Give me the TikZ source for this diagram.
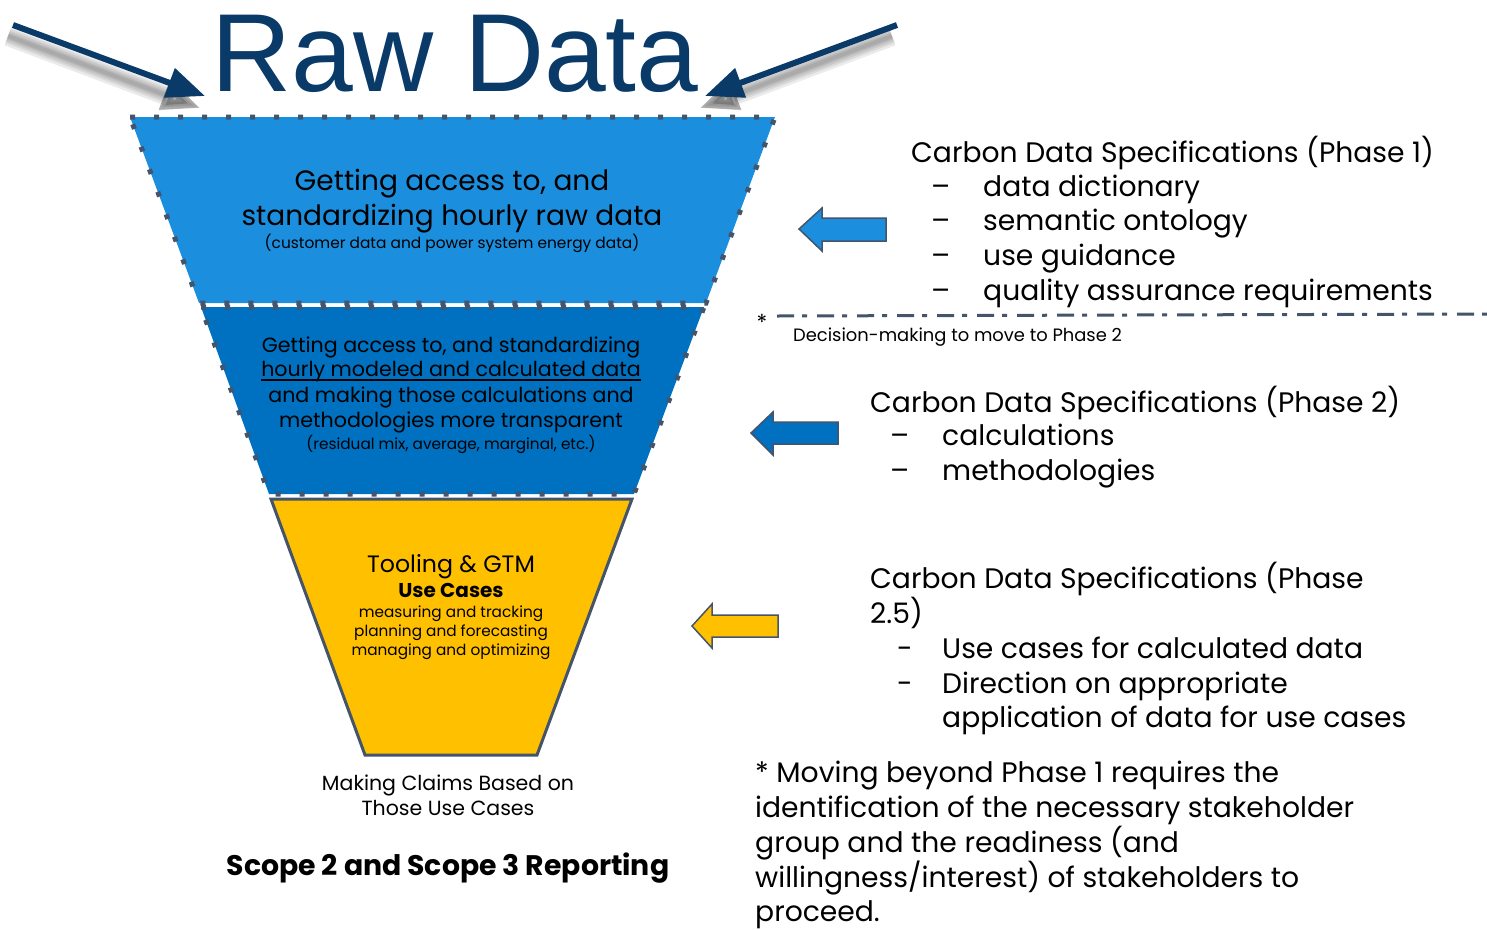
\documentclass[tikz,border=0pt]{standalone}
\usepackage{fontspec}
\setmainfont{Poppins}
\newfontfamily\arialf{Liberation Sans}
\usetikzlibrary{arrows.meta}
\definecolor{navy}{HTML}{0A3A68}
\definecolor{bandA}{HTML}{1B8EDD}
\definecolor{bandB}{HTML}{0070C0}
\definecolor{bandC}{HTML}{FFC000}
\definecolor{edgec}{HTML}{44546A}
\newcommand\fsz[1]{\fontsize{#1}{#1}\selectfont}
\begin{document}
\begin{tikzpicture}[x=1pt,y=-1pt,
  lt/.style={inner sep=0pt, anchor=base west},
  ct/.style={inner sep=0pt, anchor=base},
  rtext/.style={lt, font=\fsz{28.2}},
  dotborder/.style={draw=edgec, line width=5pt, dash pattern=on 5pt off 19pt},
  bigarrow/.style={draw=navy, line width=6pt, -{Triangle[length=38pt,width=30pt]}},
  shadowarrow/.style={draw=black, opacity=0.08, -{Triangle[length=38pt,width=30pt]}},
  sidearrow/.style={draw=edgec, line width=1.5pt, line join=miter},
  dashdot/.style={draw=edgec, line width=3pt, dash pattern=on 17pt off 8pt on 5pt off 10pt},
]
\useasboundingbox (0,0) rectangle (1487,929);

% ---- top arrows with soft shadows
\coordinate (la) at (13,25);
\coordinate (lt) at (205,96);
\coordinate (ra) at (897,25);
\coordinate (rt) at (705,96);
\coordinate (las) at (8,36);
\coordinate (lts) at (200,108);
\coordinate (ras) at (892,36);
\coordinate (rts) at (700,108);
\foreach \w in {20,15,11,7,4} {
  \draw[shadowarrow, line width=\w pt] (las) -- (lts);
  \draw[shadowarrow, line width=\w pt] (ras) -- (rts);
}
\draw[bigarrow] (la) -- (lt);
\draw[bigarrow] (ra) -- (rt);

\node[font=\arialf\fsz{111}, text=navy, ct] (title) at (455,91) {Raw Data};

% ---- funnel
\fill[bandA] (130,117) -- (775,117) -- (706,303) -- (199,303) -- cycle;
\draw[dotborder] (130,117) -- (775,117) -- (706,303) -- (199,303) -- cycle;
\fill[bandB] (201,307) -- (704,307) -- (634,494) -- (269,494) -- cycle;
\draw[dotborder] (201,307) -- (704,307) -- (634,494) -- (269,494) -- cycle;
\draw[fill=bandC, draw=edgec, line width=3pt, line join=miter] (271,499) -- (632,499) -- (537,755) -- (365,755) -- cycle;

% band texts
\node[ct, font=\fsz{28}] (a1) at (452,190) {Getting access to, and};
\node[ct, font=\fsz{28}] (a2) at (452,225) {standardizing hourly raw data};
\node[ct, font=\fsz{15.4}] (a3) at (452,248) {(customer data and power system energy data)};

\node[ct, font=\fsz{20.6}] (b1) at (451,352) {Getting access to, and standardizing};
\node[ct, font=\fsz{20.6}] (b2) at (451,376) {hourly modeled and calculated data};
\draw[line width=1.4pt] ([yshift=-4pt]b2.base west) -- ([yshift=-4pt]b2.base east);
\node[ct, font=\fsz{20.6}] (b3) at (451,402) {and making those calculations and};
\node[ct, font=\fsz{20.6}] (b4) at (451,427) {methodologies more transparent};
\node[ct, font=\fsz{15.3}] (b5) at (451,449) {(residual mix, average, marginal, etc.)};

\node[ct, font=\fsz{23.7}] (c1) at (451,572) {Tooling \& GTM};
\node[ct, font=\bfseries\fsz{20}] (c2) at (451,597) {Use Cases};
\node[ct, font=\fsz{15.3}] (c3) at (451,617) {measuring and tracking};
\node[ct, font=\fsz{15.3}] (c4) at (451,636) {planning and forecasting};
\node[ct, font=\fsz{15.3}] (c5) at (451,655) {managing and optimizing};

\node[ct, font=\fsz{20.5}] (d1) at (448,790) {Making Claims Based on};
\node[ct, font=\fsz{20.5}] (d2) at (448,815) {Those Use Cases};
\node[ct, font=\bfseries\fsz{28.3}] (d3) at (448,875) {Scope 2 and Scope 3 Reporting};

% ---- side arrows
\draw[sidearrow, fill=bandA] (799,229) -- (822,208) -- (822,218) -- (886,218) -- (886,241) -- (822,241) -- (822,251) -- cycle;
\draw[sidearrow, fill=bandB] (751,433) -- (773,412) -- (773,422) -- (838,422) -- (838,444) -- (773,444) -- (773,455) -- cycle;
\draw[sidearrow, fill=bandC] (692,626) -- (712,604) -- (712,615) -- (778,615) -- (778,637) -- (712,637) -- (712,648) -- cycle;

% ---- right texts phase 1
\node[rtext] (p1) at (911,162) {Carbon Data Specifications (Phase 1)};
\node[rtext] (p1d1) at (931,196) {–};
\node[rtext] (p1t1) at (983,196) {data dictionary};
\node[rtext] (p1d2) at (931,230) {–};
\node[rtext] (p1t2) at (983,230) {semantic ontology};
\node[rtext] (p1d3) at (931,265) {–};
\node[rtext] (p1t3) at (983,265) {use guidance};
\node[rtext] (p1d4) at (931,300) {–};
\node[rtext] (p1t4) at (983,300) {quality assurance requirements};

% decision line
\node[ct, font=\fsz{22}] (ast) at (762,330) {*};
\coordinate (dl0) at (777,316);
\coordinate (dl1) at (1487,314);
\draw[dashdot] (dl0) -- (dl1);
\node[lt, font=\fsz{17.9}] (dec) at (793,341) {Decision-making to move to Phase 2};

% phase 2
\node[rtext] (p2) at (870,412) {Carbon Data Specifications (Phase 2)};
\node[rtext] (p2d1) at (890,445) {–};
\node[rtext] (p2t1) at (942,445) {calculations};
\node[rtext] (p2d2) at (890,480) {–};
\node[rtext] (p2t2) at (942,480) {methodologies};

% phase 2.5
\node[rtext] (p3) at (870,588) {Carbon Data Specifications (Phase};
\node[rtext] (p3b) at (870,623) {2.5)};
\node[rtext] (p3d1) at (897,658) {-};
\node[rtext] (p3t1) at (942,658) {Use cases for calculated data};
\node[rtext] (p3d2) at (897,693) {-};
\node[rtext] (p3t2) at (942,693) {Direction on appropriate};
\node[rtext] (p3t3) at (942,727) {application of data for use cases};

% note
\node[rtext] (n1) at (755,782) {* Moving beyond Phase 1 requires the};
\node[rtext] (n2) at (755,817) {identification of the necessary stakeholder};
\node[rtext] (n3) at (755,852) {group and the readiness (and};
\node[rtext] (n4) at (755,887) {willingness/interest) of stakeholders to};
\node[rtext] (n5) at (755,921) {proceed.};
\end{tikzpicture}
\end{document}
